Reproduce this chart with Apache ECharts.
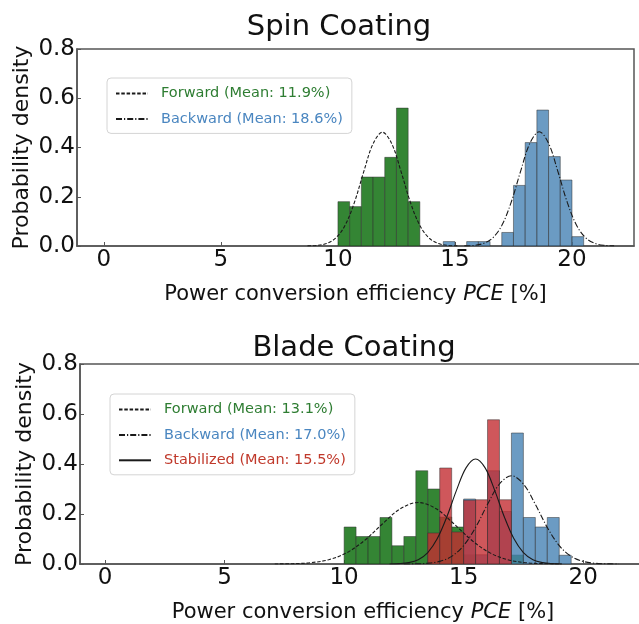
<!DOCTYPE html>
<html><head><meta charset="utf-8">
<script src="https://cdn.jsdelivr.net/npm/echarts@6/dist/echarts.min.js"></script>
<style>html,body{margin:0;padding:0;background:#fff}#c{width:639px;height:624px}</style>
</head><body><div id="c"></div>
<script>
// ---- data ----
const binWidth = 0.5;
const xTickValues = [0, 5, 10, 15, 20];

// Spin coating histograms (bin start, density)
const spinForwardBins = [10.0, 10.5, 11.0, 11.5, 12.0, 12.5, 13.0];
const spinForwardDensity = [0.18, 0.16, 0.28, 0.28, 0.36, 0.56, 0.18];
const spinBackwardBins = [14.5, 15.5, 16.0, 17.0, 17.5, 18.0, 18.5, 19.0, 19.5, 20.0];
const spinBackwardDensity = [0.018, 0.018, 0.018, 0.055, 0.246, 0.42, 0.552, 0.363, 0.268, 0.038];

// Spin coating fitted curves (read points)
const spinForwardCurveX = [8.7, 9.1, 9.5, 9.9, 10.3, 10.7, 11.1, 11.5, 11.9, 12.3, 12.7, 13.1, 13.5, 13.9, 14.3, 14.7, 15.1];
const spinForwardCurveY = [0.0005, 0.0024, 0.0098, 0.0317, 0.083, 0.176, 0.301, 0.415, 0.462, 0.415, 0.301, 0.176, 0.083, 0.0317, 0.0098, 0.0024, 0.0005];
const spinBackwardCurveX = [15.4, 15.8, 16.2, 16.6, 17.0, 17.4, 17.8, 18.2, 18.6, 19.0, 19.4, 19.8, 20.2, 20.6, 21.0, 21.4, 21.8];
const spinBackwardCurveY = [0.0005, 0.0024, 0.0099, 0.0318, 0.083, 0.177, 0.302, 0.417, 0.464, 0.417, 0.302, 0.177, 0.083, 0.0318, 0.0099, 0.0024, 0.0005];

// Blade coating histograms
const bladeForwardBins = [10.0, 10.5, 11.0, 11.5, 12.0, 12.5, 13.0, 13.5, 14.0, 14.5, 15.0, 17.0];
const bladeForwardDensity = [0.148, 0.11, 0.11, 0.186, 0.073, 0.11, 0.373, 0.30, 0.188, 0.148, 0.037, 0.036];
const bladeBackwardBins = [15.0, 15.5, 16.0, 16.5, 17.0, 17.5, 18.0, 18.5, 19.0];
const bladeBackwardDensity = [0.26, 0.037, 0.373, 0.21, 0.524, 0.186, 0.148, 0.186, 0.035];
const bladeStabilizedBins = [13.5, 14.0, 14.5, 15.0, 15.5, 16.0, 16.5];
const bladeStabilizedDensity = [0.124, 0.384, 0.128, 0.255, 0.257, 0.577, 0.257];

// Blade coating fitted curves (read points)
const bladeForwardCurveX = [7.1, 7.85, 8.6, 9.35, 10.1, 10.85, 11.6, 12.35, 13.1, 13.85, 14.6, 15.35, 16.1, 16.85, 17.6, 18.35, 19.1];
const bladeForwardCurveY = [0.0002, 0.0013, 0.0052, 0.017, 0.0445, 0.094, 0.160, 0.221, 0.246, 0.221, 0.160, 0.094, 0.0445, 0.017, 0.0052, 0.0013, 0.0002];
const bladeBackwardCurveX = [12.5, 13.0, 13.5, 14.0, 14.5, 15.0, 15.5, 16.0, 16.5, 17.0, 17.5, 18.0, 18.5, 19.0, 19.5, 20.0, 20.5, 21.0, 21.5];
const bladeBackwardCurveY = [0.0001, 0.0007, 0.0029, 0.0104, 0.0305, 0.0737, 0.1463, 0.2387, 0.320, 0.353, 0.320, 0.2387, 0.1463, 0.0737, 0.0305, 0.0104, 0.0029, 0.0007, 0.0001];
const bladeStabilizedCurveX = [11.9, 12.3, 12.7, 13.1, 13.5, 13.9, 14.3, 14.7, 15.1, 15.5, 15.9, 16.3, 16.7, 17.1, 17.5, 17.9, 18.3, 18.7, 19.1];
const bladeStabilizedCurveY = [0.0003, 0.0014, 0.0055, 0.0173, 0.0458, 0.1017, 0.1891, 0.2946, 0.3844, 0.42, 0.3844, 0.2946, 0.1891, 0.1017, 0.0458, 0.0173, 0.0055, 0.0014, 0.0003];

const titles = ['Spin Coating', 'Blade Coating'];
const xAxisName = 'Power conversion efficiency {i|PCE} [%]';
const yAxisName = 'Probability density';
const spinLegend = ['Forward (Mean: 11.9%)', 'Backward (Mean: 18.6%)'];
const bladeLegend = ['Forward (Mean: 13.1%)', 'Backward (Mean: 17.0%)', 'Stabilized (Mean: 15.5%)'];

// ---- styles ----
const FONT = 'DejaVu Sans';
const GREEN = 'rgba(30,120,30,0.9)';
const BLUE = 'rgba(70,130,180,0.8)';
const RED = 'rgba(195,45,50,0.8)';
const GREEN_T = '#2e7d32';
const BLUE_T = '#4a86c0';
const RED_T = '#c0392b';
const AXIS_C = '#555';
const DASH = [3.5, 1.8];
const DASHDOT = [6, 2, 1.2, 2];

function zip(a, b) { return a.map((v, i) => [v, b[i]]); }

function barSeries(name, bins, dens, color, gi, z) {
  return {
    type: 'custom', name: name, xAxisIndex: gi, yAxisIndex: gi, z: z, clip: true,
    data: zip(bins, dens),
    encode: { x: 0, y: 1 },
    renderItem: function (params, api) {
      const x0 = api.value(0), h = api.value(1);
      const p0 = api.coord([x0, h]);
      const p1 = api.coord([x0 + binWidth, 0]);
      return {
        type: 'rect',
        shape: { x: p0[0], y: p0[1], width: p1[0] - p0[0], height: p1[1] - p0[1] },
        style: { fill: color, stroke: 'rgba(50,50,50,0.5)', lineWidth: 1 }
      };
    }
  };
}
function curveSeries(name, xs, ys, type, gi) {
  return {
    type: 'line', name: name, xAxisIndex: gi, yAxisIndex: gi, z: 10,
    data: zip(xs, ys), smooth: 0.35, showSymbol: false, symbol: 'none',
    itemStyle: { color: '#1a1a1a' },
    lineStyle: { color: '#1a1a1a', width: 1.1, type: type }, silent: true
  };
}
function xAxisCfg(gi, min, max) {
  return {
    type: 'value', gridIndex: gi, min: min, max: max,
    name: xAxisName, nameLocation: 'middle', nameGap: 38, nameMoveOverlap: false,
    nameTextStyle: { fontFamily: FONT, fontSize: 21, color: '#111',
      rich: { i: { fontFamily: FONT, fontStyle: 'italic', fontSize: 21, color: '#111' } } },
    axisLine: { show: true, onZero: false, lineStyle: { color: AXIS_C, width: 1.5 } },
    axisTick: { show: true, inside: true, length: 4, customValues: xTickValues, lineStyle: { color: AXIS_C } },
    axisLabel: { customValues: xTickValues, fontFamily: FONT, fontSize: 23, color: '#111', margin: 3 },
    splitLine: { show: false }
  };
}
function yAxisCfg(gi) {
  return {
    type: 'value', gridIndex: gi, min: 0, max: 0.8, interval: 0.2,
    name: yAxisName, nameLocation: 'middle', nameGap: 44, nameRotate: 90, nameMoveOverlap: false,
    nameTextStyle: { fontFamily: FONT, fontSize: 22, color: '#111' },
    axisLine: { show: true, onZero: false, lineStyle: { color: AXIS_C, width: 1.5 } },
    axisTick: { show: true, inside: true, length: 4, lineStyle: { color: AXIS_C } },
    axisLabel: { fontFamily: FONT, fontSize: 23, color: '#111', margin: 2,
      formatter: v => v.toFixed(1) },
    splitLine: { show: false }
  };
}
function legendCfg(names, colors, left, top) {
  return {
    orient: 'vertical', left: left, top: top,
    data: names.map((n, i) => ({ name: n, textStyle: { color: colors[i] } })),
    itemWidth: 32, itemHeight: 14, itemGap: 10.4,
    padding: [8, 9, 7, 8],
    itemStyle: { opacity: 0 },
    backgroundColor: 'rgba(255,255,255,0.85)', borderColor: '#d4d4d4', borderWidth: 1, borderRadius: 4,
    textStyle: { fontFamily: FONT, fontSize: 14.5, padding: [0, 0, 0, 8] },
    selectedMode: false
  };
}

const chart = echarts.init(document.getElementById('c'), null, { renderer: 'canvas' });
chart.setOption({
  animation: false,
  backgroundColor: '#fff',
  graphic: [
    { type: 'text', x: 339, y: 27, style: { text: titles[0], font: '29px "DejaVu Sans"', fill: '#111', align: 'center', verticalAlign: 'middle' } },
    { type: 'text', x: 354, y: 348, style: { text: titles[1], font: '29px "DejaVu Sans"', fill: '#111', align: 'center', verticalAlign: 'middle' } }
  ],
  grid: [
    { left: 77, top: 49, width: 557, height: 197, outerBoundsMode: 'none', containLabel: false, show: true, borderColor: AXIS_C, borderWidth: 1.5 },
    { left: 80, top: 364, width: 566, height: 200, outerBoundsMode: 'none', containLabel: false, show: true, borderColor: AXIS_C, borderWidth: 1.5 }
  ],
  xAxis: [xAxisCfg(0, -1.15, 22.65), xAxisCfg(1, -1.05, 22.63)],
  yAxis: [yAxisCfg(0), yAxisCfg(1)],
  legend: [
    legendCfg(spinLegend, [GREEN_T, BLUE_T], 107, 78),
    legendCfg(bladeLegend, [GREEN_T, BLUE_T, RED_T], 110, 394)
  ],
  series: [
    barSeries('spinForwardBars', spinForwardBins, spinForwardDensity, GREEN, 0, 2),
    barSeries('spinBackwardBars', spinBackwardBins, spinBackwardDensity, BLUE, 0, 3),
    curveSeries(spinLegend[0], spinForwardCurveX, spinForwardCurveY, DASH, 0),
    curveSeries(spinLegend[1], spinBackwardCurveX, spinBackwardCurveY, DASHDOT, 0),
    barSeries('bladeForwardBars', bladeForwardBins, bladeForwardDensity, GREEN, 1, 2),
    barSeries('bladeBackwardBars', bladeBackwardBins, bladeBackwardDensity, BLUE, 1, 3),
    barSeries('bladeStabilizedBars', bladeStabilizedBins, bladeStabilizedDensity, RED, 1, 4),
    curveSeries(bladeLegend[0], bladeForwardCurveX, bladeForwardCurveY, DASH, 1),
    curveSeries(bladeLegend[1], bladeBackwardCurveX, bladeBackwardCurveY, DASHDOT, 1),
    curveSeries(bladeLegend[2], bladeStabilizedCurveX, bladeStabilizedCurveY, 'solid', 1)
  ]
});
</script></body></html>
